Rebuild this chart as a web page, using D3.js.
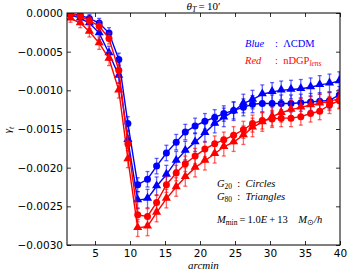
<!DOCTYPE html>
<html>
<head>
<meta charset="utf-8">
<script src="https://cdn.jsdelivr.net/npm/d3@7"></script>
<style>
html, body { margin:0; padding:0; background:#fff; overflow:hidden; }
svg { display:block; }
text { font-family: "DejaVu Sans", sans-serif; }
.math { font-family: "Liberation Serif", serif; }
</style>
</head>
<body>
<div id="chart"></div>
<script>
// angular bins (arcmin)
const arcmin = [1.5, 2.9, 4.2, 5.6, 7.0, 8.4, 9.7, 11.1, 12.5, 13.8, 15.2, 16.6, 17.9, 19.3, 20.7,
  22.1, 23.4, 24.8, 26.2, 27.5, 28.9, 30.3, 31.6, 33.0, 34.4, 35.8, 37.1, 38.5, 39.9]

// LCDM G20 (blue circles)
const lcdmG20 = [-0.00001, -0.00003, -0.00007, -0.00013, -0.00026, -0.00060, -0.00143, -0.00222, -0.00215, -0.00198,
  -0.00181, -0.00167, -0.00154, -0.00146, -0.00140, -0.00135, -0.00130, -0.00126, -0.00122, -0.00118,
  -0.00117, -0.00117, -0.00117, -0.00117, -0.00116, -0.00115, -0.00114, -0.00113, -0.00106]
// LCDM G80 (blue triangles)
const lcdmG80 = [-0.00002, -0.00007, -0.00013, -0.00026, -0.00052, -0.00081, -0.00164, -0.00242, -0.00240, -0.00224,
  -0.00209, -0.00191, -0.00178, -0.00167, -0.00155, -0.00143, -0.00135, -0.00127, -0.00117, -0.00112,
  -0.00105, -0.00102, -0.00100, -0.00099, -0.00098, -0.00096, -0.00093, -0.00091, -0.00088]
// nDGP G20 (red circles)
const ndgpG20 = [-0.00001, -0.00004, -0.00010, -0.00017, -0.00033, -0.00074, -0.00169, -0.00261, -0.00263, -0.00245,
  -0.00222, -0.00207, -0.00195, -0.00185, -0.00176, -0.00169, -0.00164, -0.00158, -0.00151, -0.00143,
  -0.00139, -0.00137, -0.00136, -0.00136, -0.00134, -0.00130, -0.00127, -0.00119, -0.00113]
// nDGP G80 (red triangles)
const ndgpG80 = [-0.00007, -0.00013, -0.00024, -0.00039, -0.00059, -0.00100, -0.00189, -0.00278, -0.00276, -0.00258,
  -0.00240, -0.00225, -0.00212, -0.00200, -0.00191, -0.00182, -0.00173, -0.00167, -0.00158, -0.00148,
  -0.00141, -0.00134, -0.00129, -0.00125, -0.00122, -0.00119, -0.00117, -0.00114, -0.00111]

// error bar half-lengths
const errG20 = [0.00003, 0.00004, 0.00005, 0.00006, 0.00007, 0.00008, 0.00009, 0.00009, 0.00010, 0.00010,
  0.00010, 0.00010, 0.00010, 0.00010, 0.00010, 0.00010, 0.00010, 0.00011, 0.00011, 0.00011,
  0.00011, 0.00011, 0.00011, 0.00011, 0.00011, 0.00011, 0.00011, 0.00011, 0.00011]
const errG80 = [0.00005, 0.00006, 0.00007, 0.00008, 0.00009, 0.00010, 0.00011, 0.00011, 0.00012, 0.00012,
  0.00012, 0.00012, 0.00012, 0.00012, 0.00012, 0.00012, 0.00012, 0.00012, 0.00012, 0.00012,
  0.00012, 0.00012, 0.00012, 0.00012, 0.00012, 0.00012, 0.00012, 0.00012, 0.00012]

const xTicks = [5, 10, 15, 20, 25, 30, 35, 40]
const yTicks = [0, -0.0005, -0.0010, -0.0015, -0.0020, -0.0025, -0.0030]

const series = [
  { values: lcdmG20, err: errG20, color: '#0000ff', marker: 'circle' },
  { values: lcdmG80, err: errG80, color: '#0000ff', marker: 'triangle' },
  { values: ndgpG20, err: errG20, color: '#ff0000', marker: 'circle' },
  { values: ndgpG80, err: errG80, color: '#ff0000', marker: 'triangle' }
]

const width = 351
const height = 273
const margin = { top: 13, bottom: 28, left: 67, right: 11 }
const innerWidth = width - margin.left - margin.right
const innerHeight = height - margin.top - margin.bottom

const svg = d3.select('#chart').append('svg')
  .attr('width', width)
  .attr('height', height)

const xScale = d3.scaleLinear().domain([1, 40]).range([0, innerWidth])
const yScale = d3.scaleLinear().domain([-0.003, 0]).range([innerHeight, 0])

const g = svg.append('g').attr('transform', `translate(${margin.left},${margin.top})`)

g.append('clipPath').attr('id', 'clip')
  .append('rect').attr('width', innerWidth).attr('height', innerHeight)

// axes with inward ticks on all sides
const fmt = d3.format('.4f')
const xAxis = g.append('g').attr('transform', `translate(0,${innerHeight})`)
  .call(d3.axisBottom(xScale).tickValues(xTicks).tickSize(-4).tickSizeOuter(0).tickPadding(5))
const xTop = g.append('g')
  .call(d3.axisTop(xScale).tickValues(xTicks).tickSize(-4).tickSizeOuter(0))
const yAxis = g.append('g')
  .call(d3.axisLeft(yScale).tickValues(yTicks).tickSize(-4).tickSizeOuter(0).tickPadding(4).tickFormat(fmt))
const yRight = g.append('g').attr('transform', `translate(${innerWidth},0)`)
  .call(d3.axisRight(yScale).tickValues(yTicks).tickSize(-4).tickSizeOuter(0))

xTop.selectAll('text').remove()
yRight.selectAll('text').remove()

for (const ax of [xAxis, xTop, yAxis, yRight]) {
  ax.select('.domain').remove()
  ax.selectAll('line').attr('stroke', '#000').attr('stroke-width', 0.8)
  ax.selectAll('text').attr('font-size', 10.5).attr('fill', '#000')
    .style('font-family', '"DejaVu Sans", sans-serif')
}

const plot = g.append('g').attr('clip-path', 'url(#clip)')

const line = d3.line().x((d, i) => xScale(arcmin[i])).y(d => yScale(d))
const tri = d3.symbol().type(d3.symbolTriangle).size(36)

series.forEach(s => {
  const sg = plot.append('g')
  // error bars
  const eb = sg.append('g').attr('stroke', s.color).attr('stroke-opacity', 0.6).attr('stroke-width', 1.3)
  s.values.forEach((v, i) => {
    const x = xScale(arcmin[i])
    const y0 = yScale(v - s.err[i])
    const y1 = yScale(v + s.err[i])
    eb.append('line').attr('x1', x).attr('x2', x).attr('y1', y0).attr('y2', y1)
    eb.append('line').attr('x1', x - 2).attr('x2', x + 2).attr('y1', y0).attr('y2', y0)
    eb.append('line').attr('x1', x - 2).attr('x2', x + 2).attr('y1', y1).attr('y2', y1)
  })
  sg.append('path')
    .attr('d', line(s.values))
    .attr('fill', 'none')
    .attr('stroke', s.color)
    .attr('stroke-width', 1.4)
  if (s.marker === 'circle') {
    sg.selectAll('circle').data(s.values).enter().append('circle')
      .attr('cx', (d, i) => xScale(arcmin[i]))
      .attr('cy', d => yScale(d))
      .attr('r', 3.5)
      .attr('fill', s.color)
  } else {
    sg.selectAll('path.m').data(s.values).enter().append('path')
      .attr('class', 'm')
      .attr('d', tri)
      .attr('transform', (d, i) => `translate(${xScale(arcmin[i])},${yScale(d) - 0.5})`)
      .attr('fill', s.color)
  }
})

// frame
g.append('rect').attr('width', innerWidth).attr('height', innerHeight)
  .attr('fill', 'none').attr('stroke', '#000').attr('stroke-width', 1)

// title
const title = svg.append('text').attr('class', 'math')
  .attr('x', margin.left + innerWidth / 2).attr('y', 10)
  .attr('text-anchor', 'middle').attr('font-size', 11)
title.append('tspan').attr('font-style', 'italic').text('θ')
title.append('tspan').attr('font-style', 'italic').attr('font-size', 8).attr('dy', 2).text('T')
title.append('tspan').attr('dy', -2).text('\u2009=\u200910′')

// axis labels
svg.append('text').attr('class', 'math')
  .attr('x', margin.left + innerWidth / 2).attr('y', 269)
  .attr('text-anchor', 'middle').attr('font-size', 11).attr('font-style', 'italic')
  .text('arcmin')

const yl = svg.append('text').attr('class', 'math')
  .attr('transform', 'translate(11,130) rotate(-90)')
  .attr('text-anchor', 'middle').attr('font-size', 11).attr('font-style', 'italic')
yl.append('tspan').text('γ')
yl.append('tspan').attr('font-size', 8).attr('dy', 3).text('t')

// colour legend
const leg = svg.append('g').attr('font-size', 10.5)
leg.append('text').attr('x', 245).attr('y', 47).attr('fill', '#0000ff').attr('font-style', 'italic').attr('class', 'math').text('Blue')
leg.append('text').attr('x', 275).attr('y', 47).attr('fill', '#0000ff').attr('class', 'math').text(':\u2002ΛCDM')
leg.append('text').attr('x', 245).attr('y', 64).attr('fill', '#ff0000').attr('font-style', 'italic').attr('class', 'math').text('Red')
const nd = leg.append('text').attr('x', 275).attr('y', 64).attr('fill', '#ff0000').attr('class', 'math')
nd.append('tspan').text(':\u2002nDGP')
nd.append('tspan').attr('font-size', 7.5).attr('font-style', 'italic').attr('dy', 2).text('lens')

// marker / mass notes
const note = svg.append('g').attr('font-size', 10.5)
const addG = (y, sub, word) => {
  const t = note.append('text').attr('class', 'math').attr('x', 217).attr('y', y).attr('fill', '#000')
  t.append('tspan').attr('font-style', 'italic').text('G')
  t.append('tspan').attr('font-size', 7.5).attr('dy', 2).text(sub)
  t.append('tspan').attr('dy', -2).text('\u2002:\u2002')
  t.append('tspan').attr('font-style', 'italic').text(word)
}
addG(187, '20', 'Circles')
addG(200, '80', 'Triangles')

const mm = note.append('text').attr('class', 'math').attr('x', 217).attr('y', 223).attr('fill', '#000')
mm.append('tspan').attr('font-style', 'italic').text('M')
mm.append('tspan').attr('font-size', 7.5).attr('dy', 2).text('min')
mm.append('tspan').attr('dy', -2).text('\u2009=\u20091.0')
mm.append('tspan').attr('font-style', 'italic').text('E')
mm.append('tspan').text('\u2009+\u200913\u2003')
mm.append('tspan').attr('font-style', 'italic').text('M')
mm.append('tspan').attr('font-size', 7.5).attr('dy', 2).text('⊙')
mm.append('tspan').attr('dy', -2).attr('font-style', 'italic').text('/h')
</script>
</body>
</html>
